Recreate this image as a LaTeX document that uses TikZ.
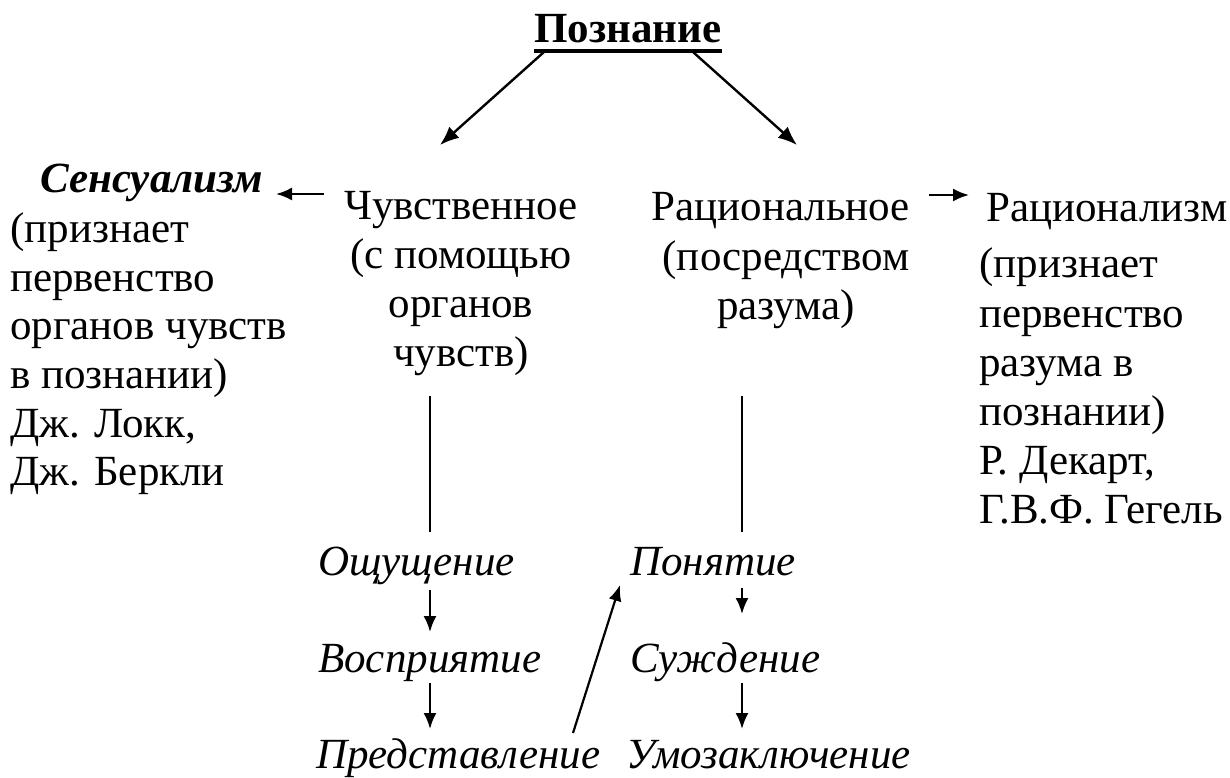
\documentclass[tikz,border=0pt]{standalone}
\usepackage{fontspec}
\setmainfont{Liberation Serif}
\usetikzlibrary{arrows.meta,calc}
\begin{document}
\begin{tikzpicture}[x=1pt,y=-1pt,
  txt/.style={inner sep=0pt, anchor=base west, font=\fontsize{43}{43}\selectfont},
  ctxt/.style={txt, anchor=base},
  itx/.style={inner sep=0pt, anchor=base west, font=\fontsize{43}{43}\selectfont\itshape},
  arr/.style={-{Latex[length=19pt,width=15pt]}, line width=2.4pt},
  sarr/.style={-{Latex[length=16pt,width=13pt]}, line width=2.2pt},
  ln/.style={line width=2pt}]
\useasboundingbox (0,0) rectangle (1230,778);
% title
\node[ctxt, font=\fontsize{43}{43}\selectfont\bfseries] (pozn) at (628,43) {Познание};
\draw[line width=3.5pt] ($(pozn.base west)+(0,8)$) -- ($(pozn.base east)+(0,8)$);
\coordinate (t1) at (544,52);
\coordinate (t2) at (693,52);
\coordinate (e1) at (440,145);
\coordinate (e2) at (797,145);
\draw[arr] (t1) -- (e1);
\draw[arr] (t2) -- (e2);
% left column
\node[txt, font=\fontsize{43}{43}\selectfont\bfseries\itshape] (sens) at (40,192) {Сенсуализм};
\node[txt] (l1) at (10,242) {(признает};
\node[txt] (l2) at (10,291) {первенство};
\node[txt] (l3) at (10,339) {органов чувств};
\node[txt] (l4) at (10,388) {в познании)};
\node[txt] (l5) at (10,437) {Дж. Локк,};
\node[txt] (l6) at (10,485) {Дж. Беркли};
% middle left
\node[ctxt] (ch) at (461,219) {Чувственное};
\node[ctxt] (ch2) at (461,268) {(с помощью};
\node[ctxt] (ch3) at (461,317) {органов};
\node[ctxt] (ch4) at (461,366) {чувств)};
% middle right
\node[ctxt] (ra) at (781,220) {Рациональное};
\node[ctxt] (ra2) at (786,270) {(посредством};
\node[ctxt] (ra3) at (786,319) {разума)};
% right column
\node[txt] (rz) at (986,221) {Рационализм};
\node[txt] (r1) at (979,277) {(признает};
\node[txt] (r2) at (979,327) {первенство};
\node[txt] (r3) at (979,376) {разума в};
\node[txt] (r4) at (979,425) {познании)};
\node[txt] (r5) at (979,474) {Р. Декарт,};
\node[txt] (r6) at (979,523) {Г.В.Ф. Гегель};
% side arrows
\coordinate (sa) at (324,194);
\coordinate (sb) at (276,194);
\draw[sarr] (sa) -- (sb);
\coordinate (ra-a) at (929,195);
\coordinate (ra-b) at (969,195);
\draw[sarr] (ra-a) -- (ra-b);
% vertical lines
\coordinate (v1a) at (430,396);
\coordinate (v1b) at (430,532);
\coordinate (v2a) at (742,396);
\coordinate (v2b) at (742,532);
\draw[ln] (v1a) -- (v1b);
\draw[ln] (v2a) -- (v2b);
% bottom chains
\node[itx] (os) at (318,575) {Ощущение};
\node[itx] (vo) at (318,672) {Восприятие};
\node[itx] (pr) at (316,768) {Представление};
\node[itx] (po) at (630,575) {Понятие};
\node[itx] (su) at (630,672) {Суждение};
\node[itx] (um) at (626,768) {Умозаключение};
\coordinate (a1) at (430,590);
\coordinate (a2) at (430,632);
\coordinate (a3) at (430,683);
\coordinate (a4) at (430,729);
\coordinate (b1) at (742,588);
\coordinate (b2) at (742,614);
\coordinate (b3) at (742,683);
\coordinate (b4) at (742,729);
\coordinate (d1) at (573,733);
\coordinate (d2) at (620,585);
\draw[sarr] (a1) -- (a2);
\draw[sarr] (a3) -- (a4);
\draw[sarr] (b1) -- (b2);
\draw[sarr] (b3) -- (b4);
\draw[sarr] (d1) -- (d2);
\end{tikzpicture}
\end{document}
